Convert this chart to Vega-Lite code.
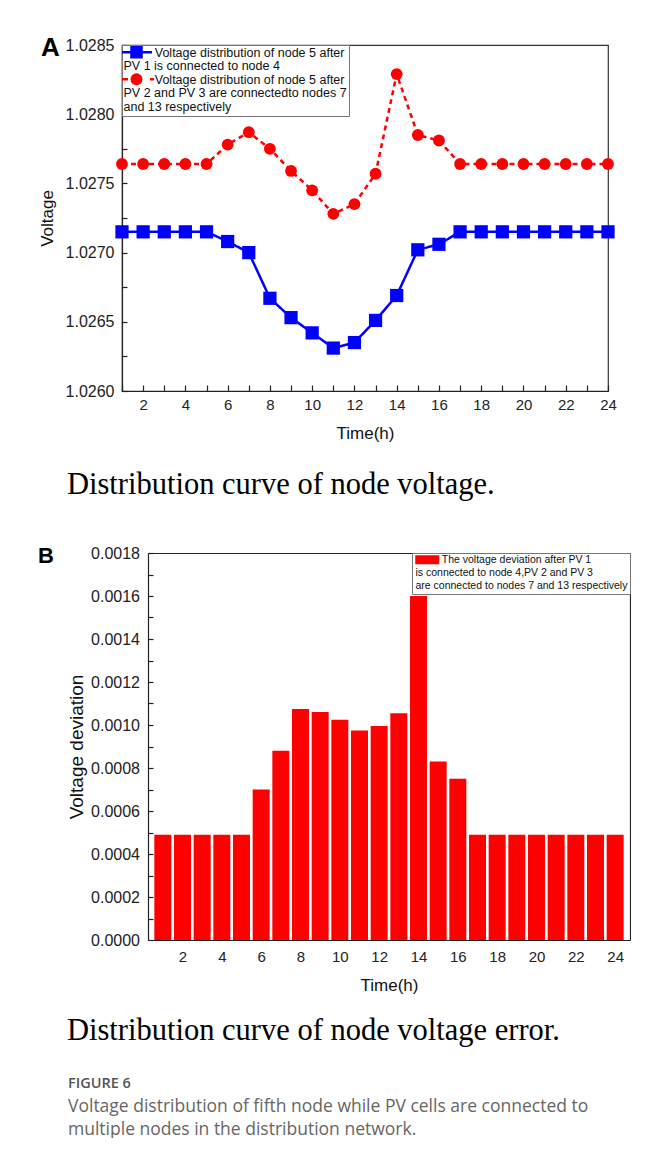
{
  "$schema": "https://vega.github.io/schema/vega-lite/v6.json",
  "background": "white",
  "padding": {"left": 37, "top": 34, "right": 0, "bottom": 0},
  "config": {
    "font": "Liberation Sans",
    "view": {"stroke": "#333", "strokeWidth": 1.2},
    "axis": {"grid": false, "domainColor": "#222", "tickColor": "#222", "labelColor": "#222", "titleColor": "#111", "labelFont": "Liberation Sans", "titleFont": "Liberation Sans", "titleFontWeight": "normal", "domainWidth": 1.2, "tickWidth": 1.2, "labelFlush": false, "labelOverlap": false},
    "legend": {"labelFont": "Liberation Sans", "labelColor": "#111", "labelLimit": 400}
  },
  "datasets": {
    "voltage": [
      {"time": 1, "series": "PV1 at node 4", "voltage": 1.02715},
      {"time": 2, "series": "PV1 at node 4", "voltage": 1.02715},
      {"time": 3, "series": "PV1 at node 4", "voltage": 1.02715},
      {"time": 4, "series": "PV1 at node 4", "voltage": 1.02715},
      {"time": 5, "series": "PV1 at node 4", "voltage": 1.02715},
      {"time": 6, "series": "PV1 at node 4", "voltage": 1.02708},
      {"time": 7, "series": "PV1 at node 4", "voltage": 1.027},
      {"time": 8, "series": "PV1 at node 4", "voltage": 1.02667},
      {"time": 9, "series": "PV1 at node 4", "voltage": 1.02653},
      {"time": 10, "series": "PV1 at node 4", "voltage": 1.02642},
      {"time": 11, "series": "PV1 at node 4", "voltage": 1.02631},
      {"time": 12, "series": "PV1 at node 4", "voltage": 1.02635},
      {"time": 13, "series": "PV1 at node 4", "voltage": 1.02651},
      {"time": 14, "series": "PV1 at node 4", "voltage": 1.02669},
      {"time": 15, "series": "PV1 at node 4", "voltage": 1.02702},
      {"time": 16, "series": "PV1 at node 4", "voltage": 1.02706},
      {"time": 17, "series": "PV1 at node 4", "voltage": 1.02715},
      {"time": 18, "series": "PV1 at node 4", "voltage": 1.02715},
      {"time": 19, "series": "PV1 at node 4", "voltage": 1.02715},
      {"time": 20, "series": "PV1 at node 4", "voltage": 1.02715},
      {"time": 21, "series": "PV1 at node 4", "voltage": 1.02715},
      {"time": 22, "series": "PV1 at node 4", "voltage": 1.02715},
      {"time": 23, "series": "PV1 at node 4", "voltage": 1.02715},
      {"time": 24, "series": "PV1 at node 4", "voltage": 1.02715},
      {"time": 1, "series": "PV2, PV3 at nodes 7, 13", "voltage": 1.02764},
      {"time": 2, "series": "PV2, PV3 at nodes 7, 13", "voltage": 1.02764},
      {"time": 3, "series": "PV2, PV3 at nodes 7, 13", "voltage": 1.02764},
      {"time": 4, "series": "PV2, PV3 at nodes 7, 13", "voltage": 1.02764},
      {"time": 5, "series": "PV2, PV3 at nodes 7, 13", "voltage": 1.02764},
      {"time": 6, "series": "PV2, PV3 at nodes 7, 13", "voltage": 1.02778},
      {"time": 7, "series": "PV2, PV3 at nodes 7, 13", "voltage": 1.02787},
      {"time": 8, "series": "PV2, PV3 at nodes 7, 13", "voltage": 1.02775},
      {"time": 9, "series": "PV2, PV3 at nodes 7, 13", "voltage": 1.02759},
      {"time": 10, "series": "PV2, PV3 at nodes 7, 13", "voltage": 1.02745},
      {"time": 11, "series": "PV2, PV3 at nodes 7, 13", "voltage": 1.02728},
      {"time": 12, "series": "PV2, PV3 at nodes 7, 13", "voltage": 1.02735},
      {"time": 13, "series": "PV2, PV3 at nodes 7, 13", "voltage": 1.02757},
      {"time": 14, "series": "PV2, PV3 at nodes 7, 13", "voltage": 1.02829},
      {"time": 15, "series": "PV2, PV3 at nodes 7, 13", "voltage": 1.02785},
      {"time": 16, "series": "PV2, PV3 at nodes 7, 13", "voltage": 1.02781},
      {"time": 17, "series": "PV2, PV3 at nodes 7, 13", "voltage": 1.02764},
      {"time": 18, "series": "PV2, PV3 at nodes 7, 13", "voltage": 1.02764},
      {"time": 19, "series": "PV2, PV3 at nodes 7, 13", "voltage": 1.02764},
      {"time": 20, "series": "PV2, PV3 at nodes 7, 13", "voltage": 1.02764},
      {"time": 21, "series": "PV2, PV3 at nodes 7, 13", "voltage": 1.02764},
      {"time": 22, "series": "PV2, PV3 at nodes 7, 13", "voltage": 1.02764},
      {"time": 23, "series": "PV2, PV3 at nodes 7, 13", "voltage": 1.02764},
      {"time": 24, "series": "PV2, PV3 at nodes 7, 13", "voltage": 1.02764}
    ],
    "deviation": [
      {"time": 1, "series": "deviation", "deviation": 0.00049},
      {"time": 2, "series": "deviation", "deviation": 0.00049},
      {"time": 3, "series": "deviation", "deviation": 0.00049},
      {"time": 4, "series": "deviation", "deviation": 0.00049},
      {"time": 5, "series": "deviation", "deviation": 0.00049},
      {"time": 6, "series": "deviation", "deviation": 0.0007},
      {"time": 7, "series": "deviation", "deviation": 0.00088},
      {"time": 8, "series": "deviation", "deviation": 0.001075},
      {"time": 9, "series": "deviation", "deviation": 0.00106},
      {"time": 10, "series": "deviation", "deviation": 0.001025},
      {"time": 11, "series": "deviation", "deviation": 0.000975},
      {"time": 12, "series": "deviation", "deviation": 0.000995},
      {"time": 13, "series": "deviation", "deviation": 0.001055},
      {"time": 14, "series": "deviation", "deviation": 0.0016},
      {"time": 15, "series": "deviation", "deviation": 0.00083},
      {"time": 16, "series": "deviation", "deviation": 0.00075},
      {"time": 17, "series": "deviation", "deviation": 0.00049},
      {"time": 18, "series": "deviation", "deviation": 0.00049},
      {"time": 19, "series": "deviation", "deviation": 0.00049},
      {"time": 20, "series": "deviation", "deviation": 0.00049},
      {"time": 21, "series": "deviation", "deviation": 0.00049},
      {"time": 22, "series": "deviation", "deviation": 0.00049},
      {"time": 23, "series": "deviation", "deviation": 0.00049},
      {"time": 24, "series": "deviation", "deviation": 0.00049}
    ]
  },
  "spacing": 0,
  "resolve": {"scale": {"color": "independent"}, "legend": {"color": "independent"}},
  "vconcat": [
    {
      "width": 486,
      "height": 346,
      "data": {"name": "voltage"},
      "title": {"text": "A", "anchor": "start", "frame": "group", "dx": -81, "dy": 24, "offset": 0, "fontSize": 26, "fontWeight": "bold", "font": "Liberation Sans", "color": "#000"},
      "encoding": {
        "x": {
          "field": "time", "type": "quantitative",
          "scale": {"domain": [1, 24], "nice": false, "zero": false},
          "axis": {
            "values": [1, 2, 3, 4, 5, 6, 7, 8, 9, 10, 11, 12, 13, 14, 15, 16, 17, 18, 19, 20, 21, 22, 23, 24],
            "title": "Time(h)", "titleFontSize": 17, "titlePadding": 13,
            "labelFontSize": 15, "labelPadding": 12, "tickSize": -6,
            "labelExpr": "datum.value % 2 == 0 ? datum.label : ''",
            "encode": {"ticks": {"update": {"y2": {"signal": "datum.value % 2 == 0 ? -6 : -3"}}}}
          }
        },
        "y": {
          "field": "voltage", "type": "quantitative",
          "scale": {"domain": [1.026, 1.0285], "nice": false, "zero": false},
          "axis": {
            "values": [1.026, 1.02625, 1.0265, 1.02675, 1.027, 1.02725, 1.0275, 1.02775, 1.028, 1.02825, 1.0285],
            "format": ".4f",
            "labelExpr": "round(datum.value * 4000) % 2 == 0 ? datum.label : ''",
            "title": "Voltage", "titleFontSize": 17, "titlePadding": 9,
            "labelFontSize": 16, "labelPadding": 13, "tickSize": -5,
            "encode": {"ticks": {"update": {"x2": {"signal": "round(datum.value * 4000) % 2 == 0 ? 5 : 3"}}}}
          }
        },
        "color": {
          "field": "series", "type": "nominal",
          "scale": {"domain": ["PV1 at node 4", "PV2, PV3 at nodes 7, 13"], "range": ["#0000ff", "#ff0000"]},
          "legend": {
            "orient": "top-left", "offset": 0, "title": null, "padding": 2,
            "strokeColor": "#777", "fillColor": "white",
            "symbolSize": 4, "labelOffset": -13, "rowPadding": -4,
            "labelFontSize": 12.5,
            "labelExpr": "datum.value == 'PV1 at node 4' ? ['\u200b\u00a0\u00a0\u00a0\u00a0\u00a0\u00a0\u00a0\u00a0\u00a0Voltage distribution of node 5 after', 'PV 1 is connected to node 4'] : ['\u200b\u00a0\u00a0\u00a0\u00a0\u00a0\u00a0\u00a0\u00a0\u00a0Voltage distribution of node 5 after', 'PV 2 and PV 3 are connectedto nodes 7', 'and 13 respectively']",
            "encode": {
              "symbols": {"update": {
                "shape": {"signal": "datum.value == 'PV1 at node 4' ? 'M-8.25,-1H21.75M1.25,-6H11.25V4H1.25Z' : 'M-8.25,-1H-2.25M1.5,-1A4.75,4.75,0,1,1,11,-1A4.75,4.75,0,1,1,1.5,-1ZM19.75,-1H23.75'"},
                "fill": {"signal": "datum.value == 'PV1 at node 4' ? '#0000ff' : '#ff0000'"},
                "stroke": {"signal": "datum.value == 'PV1 at node 4' ? '#0000ff' : '#ff0000'"},
                "strokeWidth": {"value": 2.5},
                "opacity": {"value": 1},
                "fillOpacity": {"value": 1}
              }},
              "labels": {"update": {"lineHeight": {"value": 13.2}}}
            }
          }
        }
      },
      "layer": [
        {
          "mark": {"type": "line", "strokeWidth": 2.5},
          "encoding": {
            "strokeDash": {"field": "series", "type": "nominal", "scale": {"domain": ["PV1 at node 4", "PV2, PV3 at nodes 7, 13"], "range": [[1, 0], [5, 4]]}, "legend": null}
          }
        },
        {
          "mark": {"type": "point", "filled": true, "opacity": 1},
          "encoding": {
            "shape": {"field": "series", "type": "nominal", "scale": {"domain": ["PV1 at node 4", "PV2, PV3 at nodes 7, 13"], "range": ["square", "circle"]}, "legend": null},
            "size": {"field": "series", "type": "ordinal", "scale": {"domain": ["PV1 at node 4", "PV2, PV3 at nodes 7, 13"], "range": [175, 140]}, "legend": null}
          }
        }
      ]
    },
    {
      "width": 10,
      "height": 103,
      "view": {"stroke": null},
      "data": {"values": [{"caption": "Distribution curve of node voltage."}]},
      "mark": {"type": "text", "font": "Liberation Serif", "fontSize": 30.5, "align": "left", "baseline": "middle", "dx": -60, "dy": -8.5, "color": "#000"},
      "encoding": {"text": {"field": "caption", "type": "nominal"}}
    },
    {
      "width": 508,
      "height": 387,
      "view": {"stroke": null},
      "data": {"name": "deviation"},
      "title": {"text": "B", "anchor": "start", "frame": "group", "dx": -84, "dy": 23, "offset": 0, "fontSize": 22, "fontWeight": "bold", "font": "Liberation Sans", "color": "#000"},
      "resolve": {"axis": {"x": "independent", "y": "independent"}},
      "layer": [
        {
          "mark": {"type": "bar", "width": 17},
          "encoding": {
            "x": {
              "field": "time", "type": "quantitative",
              "scale": {"domain": [0.5, 24.5], "range": [26, 508], "nice": false, "zero": false},
              "axis": {
                "values": [1, 2, 3, 4, 5, 6, 7, 8, 9, 10, 11, 12, 13, 14, 15, 16, 17, 18, 19, 20, 21, 22, 23, 24],
                "title": "Time(h)", "titleFontSize": 17, "titlePadding": 13,
                "labelFontSize": 15, "labelPadding": 15, "tickSize": -6,
                "labelExpr": "datum.value % 2 == 0 ? datum.label : ''",
                "encode": {"ticks": {"update": {"y2": {"signal": "datum.value % 2 == 0 ? -7 : -4"}}}}
              }
            },
            "y": {
              "field": "deviation", "type": "quantitative",
              "scale": {"domain": [0, 0.0018], "nice": false},
              "axis": {
                "values": [0, 0.0001, 0.0002, 0.0003, 0.0004, 0.0005, 0.0006, 0.0007, 0.0008, 0.0009, 0.001, 0.0011, 0.0012, 0.0013, 0.0014, 0.0015, 0.0016, 0.0017, 0.0018],
                "format": ".4f", "offset": -26,
                "labelExpr": "round(datum.value * 10000) % 2 == 0 ? datum.label : ''",
                "title": "Voltage deviation", "titleFontSize": 19, "titlePadding": 4,
                "labelFontSize": 16, "labelPadding": 13.5, "tickSize": -5,
                "encode": {"ticks": {"update": {"x2": {"signal": "round(datum.value * 10000) % 2 == 0 ? 5 : 3"}}}}
              }
            },
            "color": {
              "field": "series", "type": "nominal",
              "scale": {"domain": ["deviation"], "range": ["#ff0000"]},
              "legend": {
                "orient": "top-right", "offset": 0, "title": null, "padding": 2,
                "strokeColor": "#777", "fillColor": "white",
                "symbolSize": 4, "labelOffset": -9, "rowPadding": 0,
                "labelFontSize": 10.5,
                "labelExpr": "['\u200b\u00a0\u00a0\u00a0\u00a0\u00a0\u00a0\u00a0\u00a0\u00a0The voltage deviation after PV 1', 'is connected to node 4,PV 2 and PV 3', 'are connected to nodes 7 and 13 respectively']",
                "encode": {
                  "symbols": {"update": {
                    "shape": {"value": "M-4,-5H20V4H-4Z"},
                    "fill": {"value": "#ff0000"},
                    "strokeWidth": {"value": 0},
                    "opacity": {"value": 1},
                    "fillOpacity": {"value": 1}
                  }},
                  "labels": {"update": {"lineHeight": {"value": 13}}}
                }
              }
            }
          }
        },
        {
          "mark": {"type": "bar", "width": 17, "opacity": 0},
          "encoding": {
            "x": {"field": "time", "type": "quantitative", "axis": {"orient": "top", "labels": false, "ticks": false, "title": null, "domain": true}},
            "y": {"field": "deviation", "type": "quantitative", "axis": {"orient": "right", "labels": false, "ticks": false, "title": null, "domain": true}}
          }
        }
      ]
    },
    {
      "width": 10,
      "height": 72,
      "view": {"stroke": null},
      "data": {"values": [{"caption": "Distribution curve of node voltage error."}]},
      "mark": {"type": "text", "font": "Liberation Serif", "fontSize": 30.5, "align": "left", "baseline": "middle", "dx": -60, "dy": 2, "color": "#000"},
      "encoding": {"text": {"field": "caption", "type": "nominal"}}
    }
  ],
  "title": {
    "text": "FIGURE 6",
    "subtitle": ["Voltage distribution of fifth node while PV cells are connected to", "multiple nodes in the distribution network."],
    "orient": "bottom", "anchor": "start", "frame": "group", "offset": 12, "dx": -54,
    "font": "Open Sans", "fontSize": 14.5, "fontWeight": 600, "color": "#555",
    "subtitleFont": "Open Sans", "subtitleFontSize": 17.5, "subtitleColor": "#666", "subtitleLineHeight": 23, "subtitlePadding": 6
  }
}
